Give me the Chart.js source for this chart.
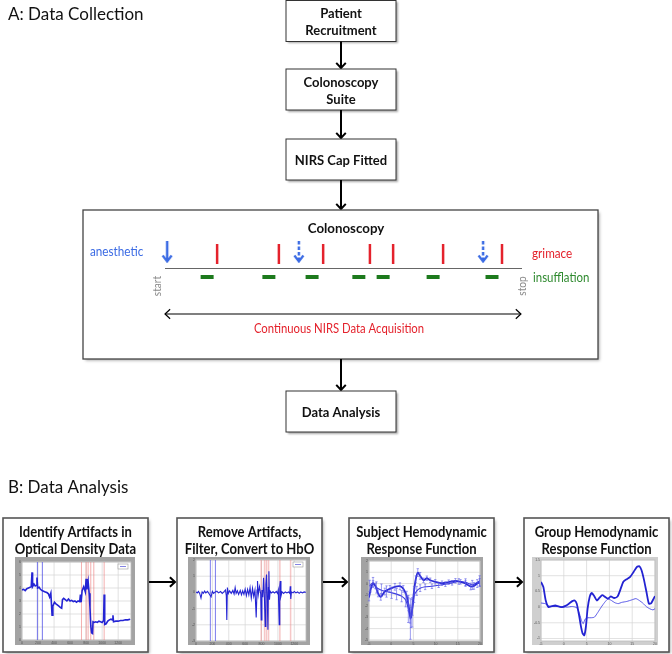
<!DOCTYPE html>
<html><head><meta charset="utf-8">
<script src="https://cdn.jsdelivr.net/npm/chart.js@4.4.0/dist/chart.umd.min.js"></script>
<style>
html,body{margin:0;padding:0;background:#fff;}
#wrap{position:relative;width:672px;height:654px;overflow:hidden;}
canvas{position:absolute;}
</style></head><body>
<div id="wrap">
<canvas id="main" width="672" height="654" style="left:0;top:0"></canvas>
<canvas id="m0"></canvas><canvas id="m1"></canvas><canvas id="m2"></canvas><canvas id="m3"></canvas>
</div>
<script>
// ================= DATA =================
const sectionTitles = ['A: Data Collection', 'B: Data Analysis'];
const flowSteps = [['Patient', 'Recruitment'], ['Colonoscopy', 'Suite'], ['NIRS Cap Fitted']];
const finalStep = ['Data Analysis'];
const procedureTitle = 'Colonoscopy';
const eventLabels = ['anesthetic', 'grimace', 'insufflation'];
const timelineEnds = ['start', 'stop'];
const acquisitionLabel = 'Continuous NIRS Data Acquisition';
// event times in % of procedure (start = 0, stop = 100)
const anestheticTimes = [0.6, 37.5, 89.1];
const anestheticTopUp = [false, true, true];
const grimaceTimes = [14.6, 31.9, 44.3, 57.4, 63.9, 77.9, 94.4];
const insufflationTimes = [11.8, 29.1, 41.2, 54.3, 61.1, 75.1, 91.6];
const analysisSteps = [['Identify Artifacts in', 'Optical Density Data'], ['Remove Artifacts,', 'Filter, Convert to HbO'], ['Subject Hemodynamic', 'Response Function'], ['Group Hemodynamic', 'Response Function']];

// Panel 1: optical density
const odTime = [0,20,40,60,80,100,115,125,132,150,165,180,187,195,215,230,250,270,290,310,330,345,360,368,375,385,405,420,440,460,480,495,505,520,540,560,580,600,620,640,660,680,700,720,729,738,750,770,790,800,810,825,838,848,858,868,880,886,900,920,940,960,980,1000,1018,1025,1032,1050,1070,1090,1110,1128,1135,1142,1170,1200,1230,1260,1290,1320,1350];
const odValue = [3.85,3.9,3.8,3.95,4.0,4.05,4.1,5.2,4.1,4.3,4.15,4.2,4.8,4.0,4.05,3.9,3.8,3.75,3.7,3.65,3.55,3.3,3.6,2.7,1.9,2.6,2.9,2.8,2.7,2.6,2.5,2.45,3.1,3.2,3.1,3.0,3.15,3.0,3.05,2.95,3.0,2.9,3.0,2.95,3.5,2.9,3.8,4.1,3.7,4.7,3.9,4.5,3.6,2.5,1.1,0.55,0.5,1.4,1.35,1.4,1.35,1.45,1.4,1.35,1.5,3.5,1.2,1.25,1.45,1.55,1.6,1.55,1.9,1.4,1.45,1.45,1.5,1.5,1.55,1.55,1.6];
const odMarksBlue = [192, 254];
const odMarksRed = [742, 800, 825, 858, 896, 1025];

// Panel 2: filtered HbO
const hboTime = [0,15,30,45,61,75,90,105,120,140,160,184,200,215,235,255,275,300,320,340,360,370,376,383,395,410,430,450,465,478,490,505,520,540,555,570,585,600,615,630,645,660,675,690,705,720,735,745,751,760,775,790,796,805,815,825,835,845,853,861,870,878,884,890,897,905,920,940,960,980,995,1005,1016,1023,1029,1037,1050,1070,1090,1110,1130,1145,1151,1157,1165,1185,1200,1220,1240,1260,1280,1300,1320,1340];
const hboValue = [0.03,-0.03,0.06,-0.06,-0.35,0.03,-0.06,0.08,-0.03,0.06,-0.08,-0.28,0.06,-0.06,0.03,0.08,-0.03,0.06,-0.06,0.03,0.15,-0.2,-1.7,0.3,-0.06,0.1,-0.06,0.12,-0.1,0.3,-0.06,0.1,-0.12,0.12,-0.15,0.1,-0.12,0.2,-0.2,0.18,-0.15,0.3,-0.35,0.25,-0.25,0.15,-1.55,0.15,0.7,-0.15,0.35,-0.1,-1.7,0.15,-0.3,0.9,-0.25,-2.1,0.5,1.1,-0.35,-2.3,0.3,1.3,-0.45,0.08,-0.04,0.04,-0.04,0.06,-0.06,0.15,-2.0,0.4,0.7,-0.25,0.04,-0.06,0.03,-0.03,0.03,-0.06,0.38,-0.4,0.03,-0.03,0.06,-0.03,0.03,-0.06,0.03,-0.03,0.03,0];
const hboMarksBlue = [175, 237];
const hboMarksRed = [796, 837, 861, 886, 1024, 1155];

// Panel 3: subject HRF
const subjTimeA = [-5.0,-4.62,-4.09,-3.56,-2.95,-2.35,-1.44,-0.3,0.83,1.97,2.73,3.48,3.86,4.24,4.47,4.77,5.15,5.53,5.98,6.52,7.27,8.03,8.79,9.92,11.44,12.95,14.47,15.61,16.74,17.88,18.64,19.39,19.92];
const subjValueA = [-1.24,-0.5,0,-0.21,-0.88,-1.18,-0.71,-0.47,-0.29,-0.24,-0.47,-1.09,-1.82,-2.71,-3.0,-2.12,-0.65,0.38,0.97,0.68,0.29,0.47,0.29,0.15,0.03,0.12,0.24,0.15,0,-0.26,-0.21,0,0.09];
const subjErrA = [0.3,0.25,0.25,0.25,0.3,0.3,0.3,0.3,0.3,0.3,0.3,0.4,0.6,0.8,0.9,0.7,0.4,0.3,0.35,0.3,0.2,0.2,0.2,0.2,0.2,0.2,0.2,0.2,0.25,0.3,0.3,0.35,0.35];
const subjTimeB = [-4.85,-4.09,-3.33,-2.2,-1.06,0.08,1.21,2.35,3.26,3.86,4.32,4.7,5.15,5.76,6.52,7.65,9.17,10.68,12.2,13.71,15.23,16.74,18.26,19.92];
const subjValueB = [-0.21,0.09,-0.35,-0.59,-0.71,-0.82,-0.94,-1.12,-1.47,-2.26,-3.15,-2.56,-1.09,-0.65,-0.41,-0.29,-0.24,-0.15,-0.06,0.06,0.18,0.12,-0.12,0.24];
const subjErrB = [0.5,0.45,0.5,0.55,0.5,0.5,0.5,0.5,0.6,1.2,1.8,1.3,0.6,0.4,0.3,0.25,0.2,0.2,0.2,0.2,0.25,0.3,0.4,0.45];

// Panel 4: group HRF
const grpTimeA = [-5.0,-4.48,-3.96,-3.36,-2.61,-1.87,-1.12,-0.37,0.37,1.12,1.87,2.39,2.84,3.36,3.73,4.1,4.48,4.85,5.22,5.67,6.12,6.72,7.24,7.84,8.43,9.1,9.7,10.3,11.04,11.79,12.39,13.06,13.81,14.55,15.3,16.04,16.57,17.01,17.54,18.13,18.66,19.18,19.7,20.0];
const grpValueA = [0.8,0.64,0.21,0,0.03,0.05,0.02,0,0.04,0.11,0.19,0.21,0.11,-0.27,-0.59,-0.83,-0.9,-0.62,-0.05,0.32,0.45,0.34,0.21,0.3,0.38,0.32,0.27,0.34,0.29,0.34,0.55,0.81,0.89,0.96,1.12,1.28,1.3,1.19,0.9,0.48,0.11,0.13,0.27,0.35];
const grpTimeB = [-5.0,-4.1,-3.36,-2.24,-0.75,0.75,1.87,2.84,3.43,3.88,4.25,4.7,5.22,5.97,6.72,7.46,8.21,8.96,9.7,10.45,11.19,11.94,12.69,13.81,14.93,15.82,16.57,17.31,18.06,18.81,19.55,20.0];
const grpValueB = [0.13,0.11,0.04,0.02,0.02,0,0.02,-0.02,-0.21,-0.43,-0.53,-0.38,-0.34,-0.34,-0.32,-0.17,0,0.15,0.26,0.21,0.14,0.11,0.15,0.18,0.23,0.27,0.21,0.13,0.02,-0.05,-0.09,-0.05];

// ================= LAYOUT & STYLE =================
const W = 672, H = 654;
const FONT = 'Lato, "Open Sans", sans-serif';
const RED = '#e4222c', BLUE = '#3b6be4', GREEN_T = '#2f8a2f', GREEN = '#1d7a1d', GREY_T = '#8a8a8a';
const L = {
  flowX: 341, boxW: 110, boxH: 41, boxTops: [0.5, 69, 139], finalTop: 391,
  panel: [83, 210, 598, 359],
  tl: { x0: 165, x1: 522, y: 268, grimaceY: 254, insufY: 277, anesY: 252, ackY: 314 },
  bx: [3, 177, 349, 524], bw: 145, btop: 518, bbottom: 652, arrowY: 582,
  frames: [[15,557,120,88],[188,557,122,88],[361,557,122,88],[532,557,126,88]],
  pads: [[7,5,4,5],[8,3,4,4],[8,4,3,4],[9,3,3,4]]
};

// ================= HELPERS =================
function txt(ctx, s, x, y, font, color, align, baseline, sx) {
  ctx.save(); ctx.translate(x, y); ctx.scale(sx || 1, 1);
  ctx.font = font; ctx.fillStyle = color; ctx.textAlign = align || 'center'; ctx.textBaseline = baseline || 'middle';
  ctx.fillText(s, 0, 0); ctx.restore();
}
function boxRect(ctx, x0, y0, x1, y1, lw, color, shadow) {
  ctx.save();
  if (shadow) { ctx.shadowColor = 'rgba(0,0,0,0.35)'; ctx.shadowBlur = shadow; ctx.shadowOffsetX = 1.5; ctx.shadowOffsetY = 1.5; }
  ctx.fillStyle = '#fff'; ctx.fillRect(x0, y0, x1 - x0, y1 - y0);
  ctx.restore();
  ctx.save(); ctx.strokeStyle = color; ctx.lineWidth = lw; ctx.strokeRect(x0, y0, x1 - x0, y1 - y0); ctx.restore();
}
function arrowLine(ctx, x0, y0, x1, y1, lw, head, both) {
  ctx.save(); ctx.strokeStyle = '#000'; ctx.lineWidth = lw; ctx.lineCap = 'butt'; ctx.lineJoin = 'miter';
  ctx.beginPath(); ctx.moveTo(x0, y0); ctx.lineTo(x1, y1); ctx.stroke();
  const drawHead = (xa, ya, xb, yb) => {
    const a = Math.atan2(yb - ya, xb - xa);
    ctx.beginPath();
    ctx.moveTo(xb - head * Math.cos(a - 0.75), yb - head * Math.sin(a - 0.75));
    ctx.lineTo(xb, yb);
    ctx.lineTo(xb - head * Math.cos(a + 0.75), yb - head * Math.sin(a + 0.75));
    ctx.stroke();
  };
  drawHead(x0, y0, x1, y1);
  if (both) drawHead(x1, y1, x0, y0);
  ctx.restore();
}
function anesArrow(dashed) {
  const c = document.createElement('canvas'); c.width = 12; c.height = 22;
  const g = c.getContext('2d'); g.strokeStyle = BLUE; g.lineWidth = 2.5;
  if (dashed) g.setLineDash([3.5, 2]);
  g.beginPath(); g.moveTo(6, 0); g.lineTo(6, 20); g.stroke();
  g.setLineDash([]); g.lineWidth = 2.2;
  g.beginPath(); g.moveTo(1.5, 14.5); g.lineTo(6, 20.5); g.lineTo(10.5, 14.5); g.stroke();
  return c;
}

// ================= MAIN DIAGRAM =================
const diagramPlugin = {
  id: 'diagram',
  beforeDatasetsDraw(chart) {
    const ctx = chart.ctx;
    const X = v => chart.scales.x.getPixelForValue(v);
    const Y = v => chart.scales.y.getPixelForValue(v);
    const T = v => chart.scales.xTime.getPixelForValue(v);
    ctx.save();
    txt(ctx, sectionTitles[0], X(8), Y(20), `17px ${FONT}`, '#111', 'left', 'alphabetic');
    txt(ctx, sectionTitles[1], X(8), Y(493), `17px ${FONT}`, '#111', 'left', 'alphabetic');

    const bf = `bold 13px ${FONT}`;
    const fx0 = X(L.flowX - L.boxW / 2), fx1 = X(L.flowX + L.boxW / 2);
    flowSteps.forEach((lines, i) => {
      const t = Y(L.boxTops[i]), b = Y(L.boxTops[i] + L.boxH);
      boxRect(ctx, fx0, t, fx1, b, 1, '#333', 2);
      const cy = (t + b) / 2;
      if (lines.length === 1) txt(ctx, lines[0], X(L.flowX), cy + 1, bf, '#111');
      else { txt(ctx, lines[0], X(L.flowX), cy - 7, bf, '#111'); txt(ctx, lines[1], X(L.flowX), cy + 10, bf, '#111'); }
      const next = i < flowSteps.length - 1 ? L.boxTops[i + 1] : L.panel[1];
      arrowLine(ctx, X(L.flowX), b, X(L.flowX), Y(next) - 1, 2, 7);
    });

    const P = L.panel;
    boxRect(ctx, X(P[0]), Y(P[1]), X(P[2]), Y(P[3]), 1.3, '#444', 3);
    txt(ctx, procedureTitle, X(346), Y(228), `bold 14px ${FONT}`, '#111', 'center', 'middle', 0.95);
    ctx.save(); ctx.strokeStyle = '#666'; ctx.lineWidth = 1;
    ctx.beginPath(); ctx.moveTo(T(0), Y(L.tl.y) + 0.5); ctx.lineTo(T(100), Y(L.tl.y) + 0.5); ctx.stroke(); ctx.restore();
    const ef = `13px ${FONT}`;
    txt(ctx, eventLabels[0], X(90), Y(252), ef, BLUE, 'left', 'middle', 0.9);
    txt(ctx, eventLabels[1], X(532), Y(254), ef, RED, 'left', 'middle', 0.9);
    txt(ctx, eventLabels[2], X(533), Y(278), ef, GREEN_T, 'left', 'middle', 0.88);
    [[timelineEnds[0], T(0) - 8], [timelineEnds[1], T(100)]].forEach(([s, x]) => {
      ctx.save(); ctx.translate(x, Y(286)); ctx.rotate(-Math.PI / 2);
      txt(ctx, s, 0, 0, `11px ${FONT}`, GREY_T, 'center', 'middle', 0.92); ctx.restore();
    });
    arrowLine(ctx, T(0), Y(L.tl.ackY), T(99.7), Y(L.tl.ackY), 1.2, 7, true);
    txt(ctx, acquisitionLabel, X(339), Y(329), ef, RED, 'center', 'middle', 0.87);
    arrowLine(ctx, X(L.flowX), Y(P[3]), X(L.flowX), Y(L.finalTop) - 1, 2, 7);
    boxRect(ctx, fx0, Y(L.finalTop), fx1, Y(L.finalTop + L.boxH), 1, '#333', 2);
    txt(ctx, finalStep[0], X(L.flowX), Y(L.finalTop + L.boxH / 2) + 1, bf, '#111');

    const tf = `bold 15px ${FONT}`;
    analysisSteps.forEach((lines, i) => {
      const x0 = X(L.bx[i]), x1 = X(L.bx[i] + L.bw);
      boxRect(ctx, x0, Y(L.btop), x1, Y(L.bbottom), 1.6, '#555', 3);
      const cx = (x0 + x1) / 2;
      txt(ctx, lines[0], cx, Y(532), tf, '#111', 'center', 'middle', 0.87);
      txt(ctx, lines[1], cx, Y(549), tf, '#111', 'center', 'middle', 0.87);
      if (i < analysisSteps.length - 1) arrowLine(ctx, x1 + 1, Y(L.arrowY), X(L.bx[i + 1]) - 2, Y(L.arrowY), 2, 7);
    });
    ctx.restore();
  }
};

const tMin = -L.tl.x0 / (L.tl.x1 - L.tl.x0) * 100;
const tMax = (W - L.tl.x0) / (L.tl.x1 - L.tl.x0) * 100;
const arrowSolid = anesArrow(false), arrowDashed = anesArrow(true);

new Chart(document.getElementById('main'), {
  type: 'scatter',
  data: { datasets: [
    { label: eventLabels[1], data: grimaceTimes.map(t => ({ x: t, y: L.tl.grimaceY })), xAxisID: 'xTime', yAxisID: 'y',
      pointStyle: 'line', pointRotation: 90, pointRadius: 10, pointBorderColor: RED, pointBackgroundColor: RED, pointBorderWidth: 2.5 },
    { label: eventLabels[2], data: insufflationTimes.map(t => ({ x: t, y: L.tl.insufY })), xAxisID: 'xTime', yAxisID: 'y',
      pointStyle: 'line', pointRotation: 0, pointRadius: 6.5, pointBorderColor: GREEN, pointBackgroundColor: GREEN, pointBorderWidth: 4 },
    { label: eventLabels[0], data: anestheticTimes.map(t => ({ x: t, y: L.tl.anesY })), xAxisID: 'xTime', yAxisID: 'y',
      pointStyle: anestheticTopUp.map(d => d ? arrowDashed : arrowSolid), pointRadius: 10 }
  ] },
  options: {
    responsive: false, animation: false, events: [], layout: { padding: 0, autoPadding: false },
    plugins: { legend: { display: false }, tooltip: { enabled: false } },
    scales: {
      x: { type: 'linear', display: false, min: 0, max: W },
      xTime: { type: 'linear', axis: 'x', position: 'bottom', display: false, min: tMin, max: tMax },
      y: { type: 'linear', display: false, min: 0, max: H, reverse: true }
    }
  },
  plugins: [diagramPlugin]
});

// ================= MINI CHARTS =================
const miniPlugin = {
  id: 'miniDeco',
  beforeDatasetsDraw(chart, args, o) {
    const { ctx, chartArea: a, width, height } = chart; const xs = chart.scales.x, ys = chart.scales.y;
    ctx.save(); ctx.fillStyle = o.frame; ctx.fillRect(0, 0, width, height);
    ctx.fillStyle = '#fff'; ctx.fillRect(a.left, a.top, a.right - a.left, a.bottom - a.top);
    ctx.strokeStyle = '#d4d4d4'; ctx.lineWidth = 0.7; ctx.beginPath();
    for (let v = Math.ceil(o.xr[0] / o.xr[2]) * o.xr[2]; v <= o.xr[1]; v += o.xr[2]) { const p = xs.getPixelForValue(v); ctx.moveTo(p, a.top); ctx.lineTo(p, a.bottom); }
    for (let v = Math.ceil(o.yr[0] / o.yr[2]) * o.yr[2]; v <= o.yr[1] + 1e-9; v += o.yr[2]) { const p = ys.getPixelForValue(v); ctx.moveTo(a.left, p); ctx.lineTo(a.right, p); }
    ctx.stroke();
    ctx.strokeStyle = '#bbb'; ctx.lineWidth = 0.8; ctx.strokeRect(a.left, a.top, a.right - a.left, a.bottom - a.top);
    ctx.fillStyle = '#555'; ctx.font = '3.5px sans-serif'; ctx.textAlign = 'center'; ctx.textBaseline = 'top';
    for (let v = Math.ceil(o.xr[0] / o.xr[2]) * o.xr[2]; v <= o.xr[1]; v += o.xr[2]) ctx.fillText(String(+v.toFixed(2)), xs.getPixelForValue(v), a.bottom + 1);
    ctx.textAlign = 'right'; ctx.textBaseline = 'middle';
    for (let v = Math.ceil(o.yr[0] / o.yr[2]) * o.yr[2]; v <= o.yr[1] + 1e-9; v += o.yr[2]) ctx.fillText(String(+v.toFixed(2)), a.left - 1, ys.getPixelForValue(v));
    (o.marks || []).forEach(m => {
      ctx.strokeStyle = m.color; ctx.lineWidth = m.width;
      m.at.forEach(v => { const px = xs.getPixelForValue(v); ctx.beginPath(); ctx.moveTo(px, a.top); ctx.lineTo(px, a.bottom); ctx.stroke(); });
    });
    ctx.restore();
  },
  afterDatasetsDraw(chart, args, o) {
    const { ctx, chartArea: a } = chart; const ys = chart.scales.y;
    (o.errors || []).forEach(e => {
      const meta = chart.getDatasetMeta(e.ds); const ds = chart.data.datasets[e.ds];
      ctx.save(); ctx.strokeStyle = e.color; ctx.lineWidth = 0.8;
      meta.data.forEach((pt, j) => {
        const v = ds.data[j].y, er = e.err[j];
        const y0 = ys.getPixelForValue(v - er), y1 = ys.getPixelForValue(v + er);
        ctx.beginPath(); ctx.moveTo(pt.x, y0); ctx.lineTo(pt.x, y1);
        ctx.moveTo(pt.x - 1.2, y0); ctx.lineTo(pt.x + 1.2, y0); ctx.moveTo(pt.x - 1.2, y1); ctx.lineTo(pt.x + 1.2, y1); ctx.stroke();
      });
      ctx.restore();
    });
    if (o.legend) {
      ctx.save(); ctx.fillStyle = '#fff'; ctx.strokeStyle = '#999'; ctx.lineWidth = 0.6;
      const lx = a.right - 13, ly = a.top + 2;
      ctx.fillRect(lx, ly, 10, 5); ctx.strokeRect(lx, ly, 10, 5);
      ctx.strokeStyle = '#3030d0'; ctx.beginPath(); ctx.moveTo(lx + 2, ly + 2.5); ctx.lineTo(lx + 8, ly + 2.5); ctx.stroke();
      ctx.restore();
    }
  }
};

function mini(idx, datasets, xr, yr, deco) {
  const [fx, fy, fw, fh] = L.frames[idx]; const p = L.pads[idx];
  const c = document.getElementById('m' + idx);
  c.width = fw; c.height = fh; c.style.left = fx + 'px'; c.style.top = fy + 'px';
  deco.xr = xr; deco.yr = yr;
  return new Chart(c, {
    type: 'scatter', data: { datasets },
    options: { responsive: false, animation: false, events: [],
      layout: { padding: { left: p[0], top: p[1], right: p[2], bottom: p[3] }, autoPadding: false },
      plugins: { legend: { display: false }, tooltip: { enabled: false }, miniDeco: deco },
      scales: { x: { type: 'linear', display: false, min: xr[0], max: xr[1] }, y: { type: 'linear', display: false, min: yr[0], max: yr[1] } } },
    plugins: [miniPlugin]
  });
}
const pts = (xs, ys) => xs.map((x, i) => ({ x, y: ys[i] }));
const lineDs = (d, color, w, ten) => ({ data: d, showLine: true, borderColor: color, borderWidth: w, pointRadius: 0, tension: ten });

mini(0, [lineDs(pts(odTime, odValue), '#2424d4', 1.6, 0)], [0, 1360, 200], [0, 6, 1],
  { frame: '#a3a3a3', legend: true, marks: [{ at: odMarksRed, color: 'rgba(235,120,120,0.6)', width: 1 }, { at: odMarksBlue, color: 'rgba(80,80,230,0.8)', width: 1 }] });
mini(1, [lineDs(pts(hboTime, hboValue), '#2424d4', 1.1, 0)], [0, 1343, 200], [-3, 2, 1],
  { frame: '#a3a3a3', legend: true, marks: [{ at: hboMarksRed, color: 'rgba(235,130,130,0.45)', width: 1.5 }, { at: hboMarksBlue, color: 'rgba(80,80,230,0.75)', width: 1 }] });
mini(2, [lineDs(pts(subjTimeA, subjValueA), '#2a2ad6', 1.8, 0.2), lineDs(pts(subjTimeB, subjValueB), '#3c3ce0', 1.1, 0.2)], [-5, 20, 5], [-5.1, 2, 1],
  { frame: '#a3a3a3', errors: [{ ds: 0, err: subjErrA, color: 'rgba(90,90,230,0.7)' }, { ds: 1, err: subjErrB, color: 'rgba(90,90,230,0.75)' }] });
mini(3, [lineDs(pts(grpTimeA, grpValueA), '#2323d2', 1.8, 0.2), lineDs(pts(grpTimeB, grpValueB), '#4848e4', 0.9, 0.2)], [-5, 20, 5], [-1.08, 1.5, 0.5],
  { frame: '#cfcfcf' });
</script>
</body></html>
